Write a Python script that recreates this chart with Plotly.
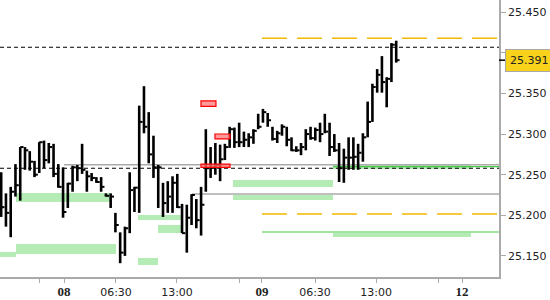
import plotly.graph_objects as go

# ---- data (bar index, prices) ----
highs = [25.253, 25.227, 25.235, 25.263, 25.284, 25.284, 25.279, 25.267, 25.290, 25.292,
         25.289, 25.288, 25.263, 25.259, 25.240, 25.261, 25.262, 25.288, 25.255, 25.252,
         25.247, 25.247, 25.227, 25.227, 25.203, 25.179, 25.186, 25.253, 25.235, 25.335,
         25.359, 25.327, 25.298, 25.262, 25.240, 25.242, 25.248, 25.251, 25.214, 25.213,
         25.226, 25.220, 25.235, 25.306, 25.284, 25.289, 25.287, 25.288, 25.309, 25.308,
         25.314, 25.303, 25.301, 25.306, 25.325, 25.331, 25.326, 25.309, 25.304, 25.312,
         25.309, 25.296, 25.285, 25.289, 25.306, 25.309, 25.308, 25.314, 25.325, 25.314,
         25.300, 25.289, 25.282, 25.296, 25.296, 25.288, 25.301, 25.340, 25.362, 25.380,
         25.396, 25.370, 25.412, 25.415]
lows = [25.198, 25.186, 25.173, 25.223, 25.218, 25.256, 25.255, 25.247, 25.252, 25.258,
        25.264, 25.247, 25.234, 25.197, 25.209, 25.229, 25.242, 25.251, 25.229, 25.242,
        25.240, 25.229, 25.223, 25.209, 25.179, 25.141, 25.150, 25.178, 25.204, 25.203,
        25.301, 25.264, 25.246, 25.209, 25.198, 25.203, 25.203, 25.209, 25.178, 25.154,
        25.188, 25.184, 25.175, 25.229, 25.246, 25.250, 25.242, 25.268, 25.283, 25.283,
        25.284, 25.284, 25.284, 25.288, 25.306, 25.314, 25.309, 25.292, 25.289, 25.298,
        25.285, 25.279, 25.278, 25.274, 25.280, 25.293, 25.292, 25.290, 25.301, 25.273,
        25.278, 25.241, 25.240, 25.256, 25.256, 25.256, 25.266, 25.296, 25.315, 25.351,
        25.351, 25.333, 25.364, 25.388]
closes = [25.210, 25.203, 25.229, 25.237, 25.284, 25.280, 25.266, 25.250, 25.290, 25.268,
          25.284, 25.251, 25.235, 25.204, 25.239, 25.259, 25.258, 25.256, 25.248, 25.246,
          25.241, 25.235, 25.224, 25.223, 25.188, 25.154, 25.184, 25.231, 25.234, 25.315,
          25.309, 25.275, 25.259, 25.259, 25.215, 25.223, 25.240, 25.210, 25.178, 25.197,
          25.225, 25.194, 25.213, 25.258, 25.259, 25.262, 25.269, 25.284, 25.306, 25.290,
          25.290, 25.293, 25.296, 25.304, 25.309, 25.327, 25.317, 25.294, 25.301, 25.309,
          25.293, 25.280, 25.280, 25.284, 25.300, 25.295, 25.305, 25.300, 25.303, 25.284,
          25.280, 25.258, 25.271, 25.271, 25.272, 25.277, 25.296, 25.315, 25.358, 25.373,
          25.364, 25.368, 25.410, 25.391]
bar_index = list(range(len(closes)))

# x-axis ticks (in bar-index units)
tick_positions = [8.15, 13.20, 24.12, 36.94, 49.97, 54.80, 65.94, 78.76, 91.99, 96.83]
tick_labels = ["", "08", "06:30", "13:00", "", "09", "06:30", "13:00", "", "12"]
bold_labels = {"08", "09", "12"}

y_ticks = [25.150, 25.200, 25.250, 25.300, 25.350, 25.400, 25.450]
last_price = 25.391

X_MIN, X_MAX = -0.25, 104.6
Y_MIN, Y_MAX = 25.124, 25.4651

# horizontal levels: (price, x_start)
black_dashed = [(25.4069, X_MIN), (25.2579, X_MIN)]
orange_dashed = [(25.418, 54.80), (25.2016, 54.80)]
green_lines = [(25.1794, 54.80), (25.2598, 69.72)]
gray_lines = [(25.2623, 13.20), (25.2262, 40.09)]

# zones: (x0, x1, y_low, y_high)
green_zones = [
    (X_MIN, 3.11, 25.1487, 25.1548),
    (3.11, 24.12, 25.1523, 25.1647),
    (3.11, 22.86, 25.2164, 25.2274),
    (28.75, 37.99, 25.1942, 25.2004),
    (32.95, 37.99, 25.1782, 25.1881),
    (28.75, 32.95, 25.1388, 25.1474),
    (48.71, 69.72, 25.2349, 25.2435),
    (48.71, 69.72, 25.2188, 25.2250),
    (69.72, 98.72, 25.2571, 25.2620),
    (69.72, 98.72, 25.1733, 25.1782),
]
red_zones = [
    (41.98, 45.13, 25.3340, 25.3408),
    (44.92, 48.08, 25.2940, 25.3001),
    (41.98, 48.08, 25.2591, 25.2631),
]

# ---- figure ----
fig = go.Figure()

shapes = []
for (x0, x1, y0, y1) in green_zones:
    shapes.append(dict(type="rect", xref="x", yref="y", x0=x0, x1=x1, y0=y0, y1=y1,
                       fillcolor="#b5ebb5", line=dict(width=0), layer="below"))
for (p, xs) in gray_lines:
    shapes.append(dict(type="line", xref="x", yref="y", x0=xs, x1=X_MAX, y0=p, y1=p,
                       line=dict(color="#aaaaaa", width=1.5), layer="below"))
for (p, xs) in green_lines:
    shapes.append(dict(type="line", xref="x", yref="y", x0=xs, x1=X_MAX, y0=p, y1=p,
                       line=dict(color="#44cc44", width=1.2), layer="below"))
for (p, xs) in orange_dashed:
    shapes.append(dict(type="line", xref="x", yref="y", x0=xs, x1=X_MAX, y0=p, y1=p,
                       line=dict(color="#f5b800", width=1.3, dash="25px,10px"), layer="below"))
for (p, xs) in black_dashed:
    shapes.append(dict(type="line", xref="x", yref="y", x0=xs, x1=X_MAX, y0=p, y1=p,
                       line=dict(color="#000000", width=1.1, dash="4px,3px"), layer="below"))
for (x0, x1, y0, y1) in red_zones:
    shapes.append(dict(type="rect", xref="x", yref="y", x0=x0, x1=x1, y0=y0, y1=y1,
                       fillcolor="rgba(255,120,120,0.75)", line=dict(color="#ff0000", width=1.2),
                       layer="above"))

# HL bars
vx, vy = [], []
for i, h, l in zip(bar_index, highs, lows):
    vx += [i, i, None]
    vy += [l, h, None]
fig.add_trace(go.Scatter(x=vx, y=vy, mode="lines", line=dict(color="#000000", width=2.6),
                         hoverinfo="skip", showlegend=False))
# close ticks
cx, cy = [], []
for i, c in zip(bar_index, closes):
    cx += [i, i + 0.7, None]
    cy += [c, c, None]
fig.add_trace(go.Scatter(x=cx, y=cy, mode="lines", line=dict(color="#000000", width=2),
                         hoverinfo="skip", showlegend=False))

ticktext = []
for t in tick_labels:
    if t in bold_labels:
        ticktext.append("<span style='font-family:Liberation Serif;font-size:13px'><b>%s</b></span>" % t)
    else:
        ticktext.append(t)

fig.update_layout(
    width=550, height=300,
    margin=dict(l=0, r=51, t=0, b=23),
    paper_bgcolor="white", plot_bgcolor="white",
    font=dict(family="DejaVu Sans", size=11, color="#222222"),
    shapes=shapes,
    showlegend=False,
    xaxis=dict(range=[X_MIN, X_MAX], tickvals=tick_positions, ticktext=ticktext,
               showgrid=False, zeroline=False, showline=True, linecolor="#aaaaaa", linewidth=1.5,
               ticks="outside", ticklen=4, tickcolor="#aaaaaa", tickwidth=1,
               tickfont=dict(family="DejaVu Sans", size=11, color="#222222")),
    yaxis=dict(range=[Y_MIN, Y_MAX], side="right", tickvals=y_ticks,
               ticktext=["%.3f" % v for v in y_ticks],
               showgrid=False, zeroline=False, showline=True, linecolor="#aaaaaa", linewidth=1.5,
               ticks="outside", ticklen=5, tickcolor="#aaaaaa", tickwidth=1,
               tickfont=dict(family="DejaVu Sans", size=11, color="#222222")),
)

# current price tag
fig.add_shape(type="line", xref="paper", yref="y", x0=1.0, x1=1.012, y0=last_price, y1=last_price,
              line=dict(color="#000000", width=1.5))
fig.add_annotation(xref="paper", yref="y", x=1.0, y=last_price, xanchor="left", yanchor="middle",
                   xshift=6, text="%.3f" % last_price, showarrow=False,
                   font=dict(family="DejaVu Sans", size=11, color="#222222"),
                   bgcolor="#f9d21c", bordercolor="#a8a8a8", borderwidth=1, borderpad=4)

fig.write_html("out.html")
